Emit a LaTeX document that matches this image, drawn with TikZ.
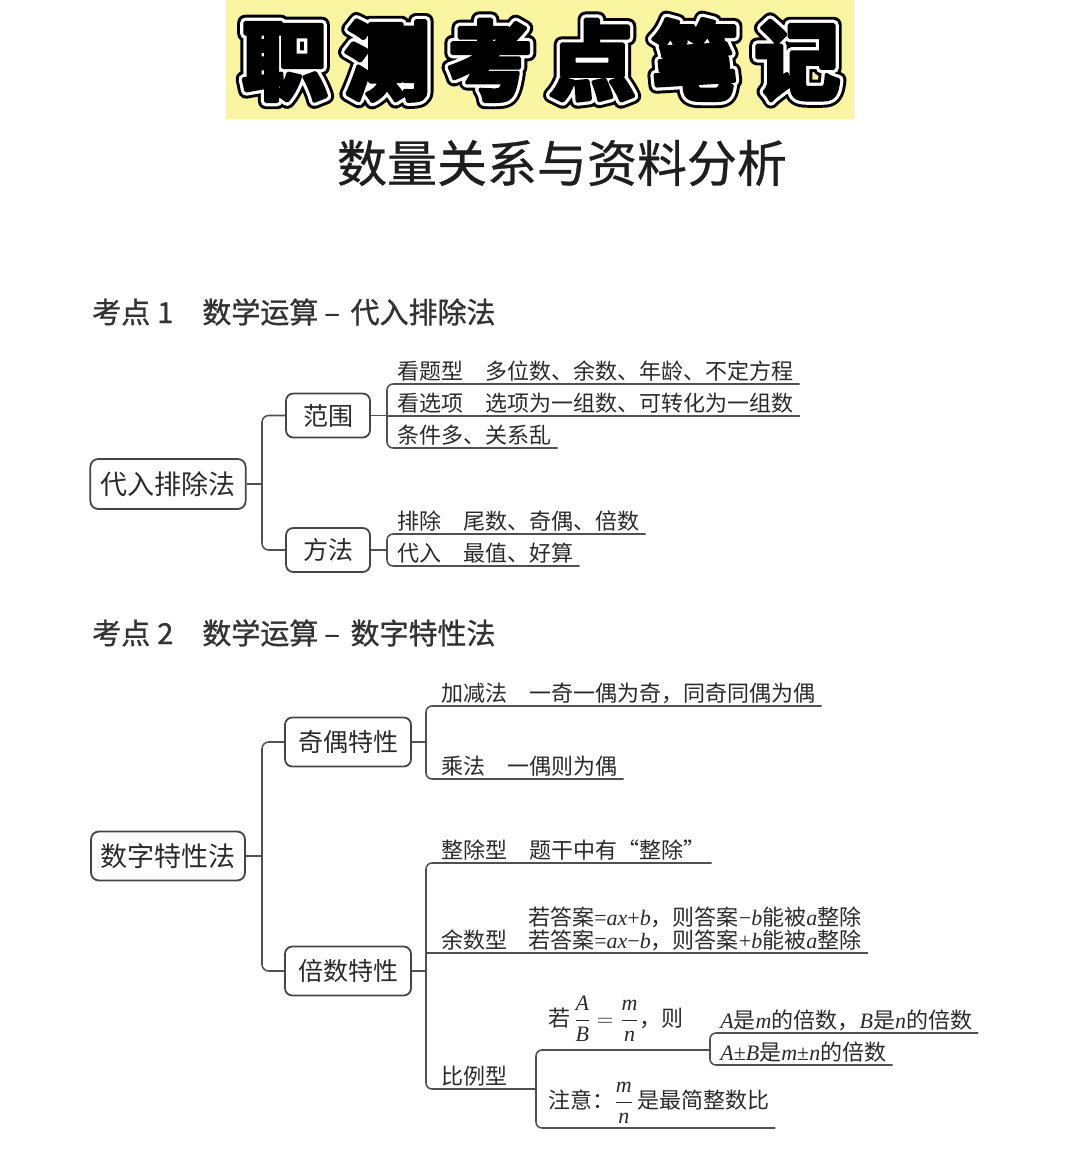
\documentclass[tikz,border=0pt]{standalone}
\usepackage{fontspec}
\usepackage{amsmath}
\setmainfont{Liberation Serif}
\newfontfamily\hei{Noto Sans CJK SC}[FakeBold=1]
\newfontfamily\subf{Noto Sans CJK SC}[FakeBold=0.6]
\newfontfamily\titlef{Noto Sans CJK SC}
\newfontfamily\song{Noto Sans CJK SC}
\newcommand\mi[1]{{\rmfamily\itshape #1}}
\newcommand\ttltext{职\hspace{12.4pt}测\hspace{12.4pt}考\hspace{12.4pt}点\hspace{12.4pt}笔\hspace{12.4pt}记}
\definecolor{ylw}{RGB}{250,245,160}
\definecolor{ln}{HTML}{505050}
\definecolor{bx}{HTML}{454545}
\definecolor{tx}{HTML}{2A2A2A}
\definecolor{hdc}{HTML}{333333}
\definecolor{subc}{HTML}{1E1E1E}
\tikzset{
  ttl/.style={inner sep=0pt, font=\titlef\bfseries\fontsize{64.5}{64.5}\selectfont},
  hd/.style={anchor=west, inner sep=0pt, text=hdc, font=\hei\fontsize{21.75}{24}\selectfont},
  conn/.style={draw=ln, line width=1.15pt},
  rbox/.style={draw=bx, line width=1.35pt, rounded corners=6pt, text=tx, inner sep=0pt,
    font=\song\fontsize{20.25}{22}\selectfont, minimum width=116.5pt, minimum height=37.5pt},
  mbox/.style={draw=bx, line width=1.35pt, rounded corners=5.5pt, text=tx, inner sep=0pt,
    font=\song\fontsize{18.75}{20}\selectfont, minimum height=33pt},
  leaf/.style={anchor=south west, inner xsep=4.5pt, inner ysep=3.4pt, text depth=0pt, text=tx,
    font=\song\fontsize{16.5}{17.25}\selectfont},
  fleaf/.style={anchor=west, inner xsep=4.5pt, inner ysep=0pt, text=tx,
    font=\song\fontsize{16.5}{17.25}\selectfont},
}
\begin{document}
\begin{tikzpicture}[x=0.75pt,y=-0.75pt]
\useasboundingbox (0,0) rectangle (1080,1167);
\fill[white] (0,0) rectangle (1080,1167);
% title
\fill[ylw] (226,0) rectangle (854,119);
\node[ttl,text=black] (tta) at (541,60) {\special{pdf:literal direct 1 j 2 Tr 12 w}\ttltext\special{pdf:literal direct 0 Tr}};
\node[ttl,text=white] (ttb) at (541,60) {\special{pdf:literal direct 1 j 2 Tr 7.6 w}\ttltext\special{pdf:literal direct 0 Tr}};
\node[ttl,text=black] (ttc) at (541,60) {\special{pdf:literal direct 1 j 2 Tr 2.8 w}\ttltext\special{pdf:literal direct 0 Tr}};
\node[inner sep=0pt, text=subc, font=\subf\fontsize{37.5}{40}\selectfont] (subt) at (562,163) {数量关系与资料分析};

% ---------- section 1
\node[hd] (h1) at (92,312) {考点\hspace{5.25pt}1\hspace{21.75pt}数学运算\hspace{4.5pt}–\hspace{8pt}代入排除法};
\coordinate (tx1) at (262,0);
\coordinate (bx1) at (387,0);
\node[rbox] (root1) at (168,484) {代入排除法};
\node[mbox, minimum width=63pt] (fanwei) at (328,415.5) {范围};
\node[mbox, minimum width=63pt] (fangfa) at (328,550) {方法};
\draw[conn] (root1.east) -- (root1.east -| tx1);
\draw[conn, rounded corners=5pt] (fanwei.west) -- (fanwei.west -| tx1) -- (fangfa.west -| tx1) -- (fangfa.west);

\node[leaf] (l1a) at (391,384) {看题型\hspace{1em}多位数、余数、年龄、不定方程};
\node[leaf] (l1b) at (391,416) {看选项\hspace{1em}选项为一组数、可转化为一组数};
\node[leaf] (l1c) at (391,448) {条件多、关系乱};
\draw[conn] (fanwei.east) -- (fanwei.east -| bx1);
\draw[conn, rounded corners=4.5pt] (l1a.south east) -- (l1a.south west -| bx1) -- (l1c.south west -| bx1) -- (l1c.south east);
\draw[conn] (l1b.south west -| bx1) -- (l1b.south east);

\node[leaf] (l1d) at (391,534) {排除\hspace{1em}尾数、奇偶、倍数};
\node[leaf] (l1e) at (391,566) {代入\hspace{1em}最值、好算};
\draw[conn] (fangfa.east) -- (fangfa.east -| bx1);
\draw[conn, rounded corners=4.5pt] (l1d.south east) -- (l1d.south west -| bx1) -- (l1e.south west -| bx1) -- (l1e.south east);

% ---------- section 2
\node[hd] (h2) at (92,633) {考点\hspace{5.25pt}2\hspace{21.75pt}数学运算\hspace{4.5pt}–\hspace{8pt}数字特性法};
\coordinate (bx2) at (426,0);
\coordinate (bx3) at (536,0);
\coordinate (bx4) at (710,0);
\node[rbox, minimum width=115.5pt, minimum height=36.75pt] (root2) at (168,856) {数字特性法};
\node[mbox, minimum width=94.5pt, minimum height=36.75pt] (jiou) at (348,742) {奇偶特性};
\node[mbox, minimum width=94.5pt, minimum height=36.75pt] (beishu) at (348,971) {倍数特性};
\draw[conn] (root2.east) -- (root2.east -| tx1);
\draw[conn, rounded corners=5pt] (jiou.west) -- (jiou.west -| tx1) -- (beishu.west -| tx1) -- (beishu.west);

\node[leaf] (l2a) at (435,706) {加减法\hspace{1em}一奇一偶为奇，同奇同偶为偶};
\node[leaf] (l2b) at (435,779) {乘法\hspace{1em}一偶则为偶};
\draw[conn] (jiou.east) -- (jiou.east -| bx2);
\draw[conn, rounded corners=4.5pt] (l2a.south east) -- (l2a.south west -| bx2) -- (l2b.south west -| bx2) -- (l2b.south east);

\node[leaf] (l2c) at (435,863) {整除型\hspace{1em}题干中有“整除”};
\node[leaf] (l2d) at (435,953) {余数型};
\node[leaf, align=left] (l2dt) at (522,953) {若答案{\rmfamily =\textit{ax}+\textit{b}}，则答案{\rmfamily −\textit{b}}能被\mi{a}整除\\若答案{\rmfamily =\textit{ax}−\textit{b}}，则答案{\rmfamily +\textit{b}}能被\mi{a}整除};
\node[leaf] (l2e) at (435,1089) {比例型};
\draw[conn] (beishu.east) -- (beishu.east -| bx2);
\draw[conn, rounded corners=4.5pt] (l2c.south east) -- (l2c.south west -| bx2) -- (l2e.south west -| bx2) -- (l2e.south west -| bx3);
\draw[conn] (l2d.south west -| bx2) -- (l2dt.south east);

\coordinate (p1) at (536,1050);
\coordinate (p2) at (710,1050);
\coordinate (p3) at (536,1128);
\node[fleaf] (frac) at (542,1019) {若\,$\displaystyle\frac{\text{\mi{A}}}{\text{\mi{B}}}=\frac{\text{\mi{m}}}{\text{\mi{n}}}$，则};
\node[fleaf] (zhuyi) at (542,1103) {注意：$\displaystyle\frac{\text{\mi{m}}}{\text{\mi{n}}}$\,是最简整数比};
\draw[conn, rounded corners=4.5pt] (p2) -- (p1) -- (p3) -- (zhuyi.east |- p3);

\node[leaf] (l2f) at (714,1033) {\mi{A}是\mi{m}的倍数，\mi{B}是\mi{n}的倍数};
\node[leaf] (l2g) at (714,1065) {{\rmfamily\textit{A}±\textit{B}}是{\rmfamily\textit{m}±\textit{n}}的倍数};
\draw[conn, rounded corners=4.5pt] (l2f.south east) -- (l2f.south west -| bx4) -- (l2g.south west -| bx4) -- (l2g.south east);
\end{tikzpicture}
\end{document}
